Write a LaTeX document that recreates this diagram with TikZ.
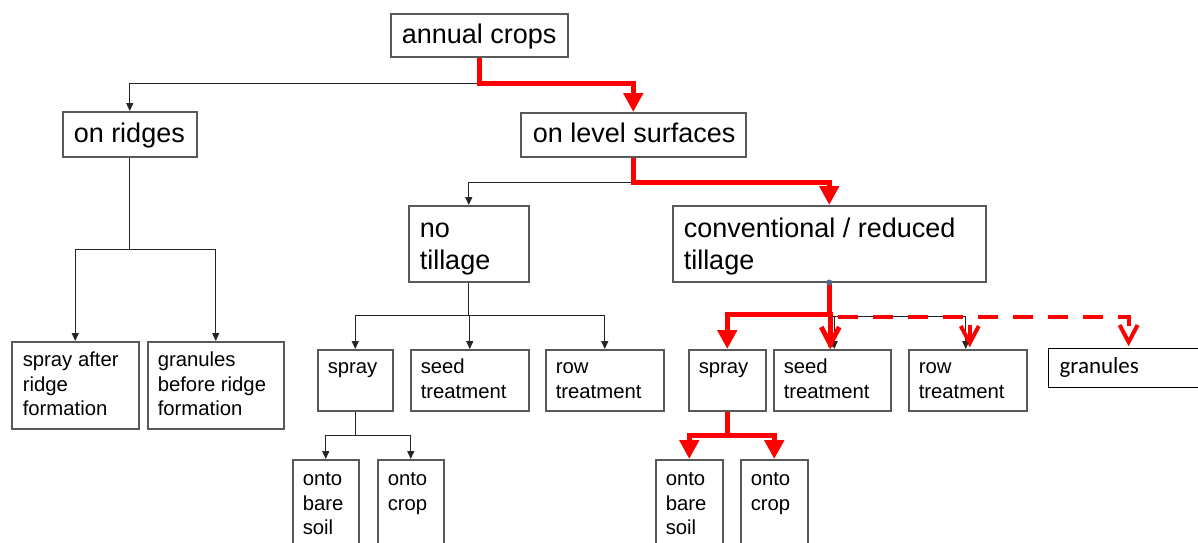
\documentclass[tikz,border=0pt]{standalone}
\usepackage{fontspec}
\setmainfont{Liberation Sans}
\newfontfamily\calib{Carlito}
\usetikzlibrary{arrows.meta,calc}
\definecolor{boxgray}{RGB}{89,89,89}
\definecolor{dotblue}{RGB}{79,106,143}
\newcommand\cell[5]{\hspace*{#4}\parbox[c][#2][t]{\dimexpr#1-#4\relax}{\raggedright\rule{0pt}{#3}#5}}
\begin{document}
\begin{tikzpicture}[x=1pt,y=-1pt,
 bx/.style={draw=boxgray, line width=1.5pt, inner sep=0pt, anchor=north west, fill=white},
 fbig/.style={font=\fontsize{27}{31.5}\selectfont},
 fsm/.style={font=\fontsize{20.3}{24.5}\selectfont},
 blk/.style={draw=black!85, line width=1.3pt, -{Triangle[length=8pt,width=7pt]}},
 redl/.style={draw=red, line width=5pt},
 redf/.style={redl, -{Triangle[length=19pt,width=19pt]}},
 reddash/.style={draw=red, line width=4pt, dash pattern=on 20pt off 15pt, dash phase=28pt},
 vhd/.pic={\draw[red,line width=#1,line join=miter] (-9,-17) -- (0,0) -- (9,-17);},
]
\useasboundingbox (0,0) rectangle (1198,542);
\clip (0,0) rectangle (1198,542);
\fill[white] (0,0) rectangle (1198,542);

% nodes
\node[bx,fbig] (annual) at (390,13) {\cell{177pt}{43pt}{30pt}{11pt}{annual crops}};
\node[bx,fbig] (ridges) at (62,111) {\cell{134pt}{45pt}{31pt}{11pt}{on ridges}};
\node[bx,fbig] (level) at (520,112) {\cell{225pt}{44pt}{30pt}{12pt}{on level surfaces}};
\node[bx,fbig] (notill) at (408,205) {\cell{120pt}{76pt}{32pt}{11pt}{no\\tillage}};
\node[bx,fbig] (conv) at (672,205) {\cell{313pt}{76pt}{32pt}{11pt}{conventional / reduced\\tillage}};

\node[bx,fsm] (sprayafter) at (11,341) {\cell{127pt}{87pt}{25pt}{11pt}{spray after\\ridge\\formation}};
\node[bx,fsm] (granbefore) at (147,341) {\cell{136pt}{87pt}{25pt}{10pt}{granules\\before ridge\\formation}};

\node[bx,fsm] (sprayL) at (317,349) {\cell{75pt}{61pt}{24pt}{10pt}{spray}};
\node[bx,fsm] (seedL) at (410,349) {\cell{118pt}{61pt}{24pt}{10pt}{seed\\treatment}};
\node[bx,fsm] (rowL) at (545,349) {\cell{118pt}{61pt}{24pt}{10pt}{row\\treatment}};
\node[bx,fsm] (sprayR) at (688,349) {\cell{77pt}{61pt}{24pt}{10pt}{spray}};
\node[bx,fsm] (seedR) at (773,349) {\cell{117pt}{61pt}{24pt}{10pt}{seed\\treatment}};
\node[bx,fsm] (rowR) at (908,349) {\cell{118pt}{61pt}{24pt}{10pt}{row\\treatment}};
\node[bx,draw=black,line width=1.2pt,font=\calib\fontsize{23}{27}\selectfont] (gran) at (1048,348) {\cell{160pt}{39pt}{25pt}{11pt}{granules}};

\node[bx,fsm] (ontoL1) at (292,459) {\cell{66pt}{111pt}{26pt}{10pt}{onto\\bare\\soil}};
\node[bx,fsm] (ontoL2) at (377,459) {\cell{66pt}{111pt}{26pt}{10pt}{onto\\crop}};
\node[bx,fsm] (ontoR1) at (655,459) {\cell{67pt}{111pt}{26pt}{10pt}{onto\\bare\\soil}};
\node[bx,fsm] (ontoR2) at (740,459) {\cell{67pt}{111pt}{26pt}{10pt}{onto\\crop}};

% black connectors
\draw[blk] (annual.south) -- ++(0,26) -| (ridges.north);
\draw[blk] (level.south) -- ++(0,25) -| (notill.north);
\draw[blk] (ridges.south) -- ++(0,92) -| (sprayafter.north);
\draw[blk] (ridges.south) -- ++(0,92) -| (granbefore.north);
\draw[blk] (notill.south) -- ++(0,33) -| (sprayL.north);
\draw[blk] (notill.south) -- ++(0,33) -| (seedL.north);
\draw[blk] (notill.south) -- ++(0,33) -| (rowL.north);
\draw[blk] (sprayL.south) -- ++(0,24) -| (ontoL1.north);
\draw[blk] (sprayL.south) -- ++(0,24) -| (ontoL2.north);
\draw[blk] (conv.south) -- ++(0,34) -| ([xshift=2pt]seedR.north);
\draw[blk] (conv.south) -- ++(0,34) -| ([xshift=-2pt]rowR.north);

% red connectors
\draw[redf] (annual.south) -- ++(0,26) -| (level.north);
\draw[redf] (level.south) -- ++(0,25) -| (conv.north);
\draw[redf] (conv.south) -- ++(0,32) -| (sprayR.north);
\draw[redl] (conv.south) -- ++(0,32) -| ([xshift=-2pt,yshift=2pt]seedR.north);
\pic at ([xshift=-2pt,yshift=5pt]seedR.north) {vhd=5pt};
\draw[reddash] ($(conv.south)+(2,34)$) -| ([yshift=6pt]gran.north);
\pic at ([yshift=6pt]gran.north) {vhd=4pt};
\draw[reddash] ($(conv.south)+(2,34)$) -| ([xshift=2pt,yshift=6pt]rowR.north);
\pic at ([xshift=2pt,yshift=6pt]rowR.north) {vhd=4pt};
\draw[redf] (sprayR.south) -- ++(0,24) -| (ontoR1.north);
\draw[redf] (sprayR.south) -- ++(0,24) -| (ontoR2.north);

\fill[dotblue] (conv.south) circle (3pt);
\end{tikzpicture}
\end{document}
